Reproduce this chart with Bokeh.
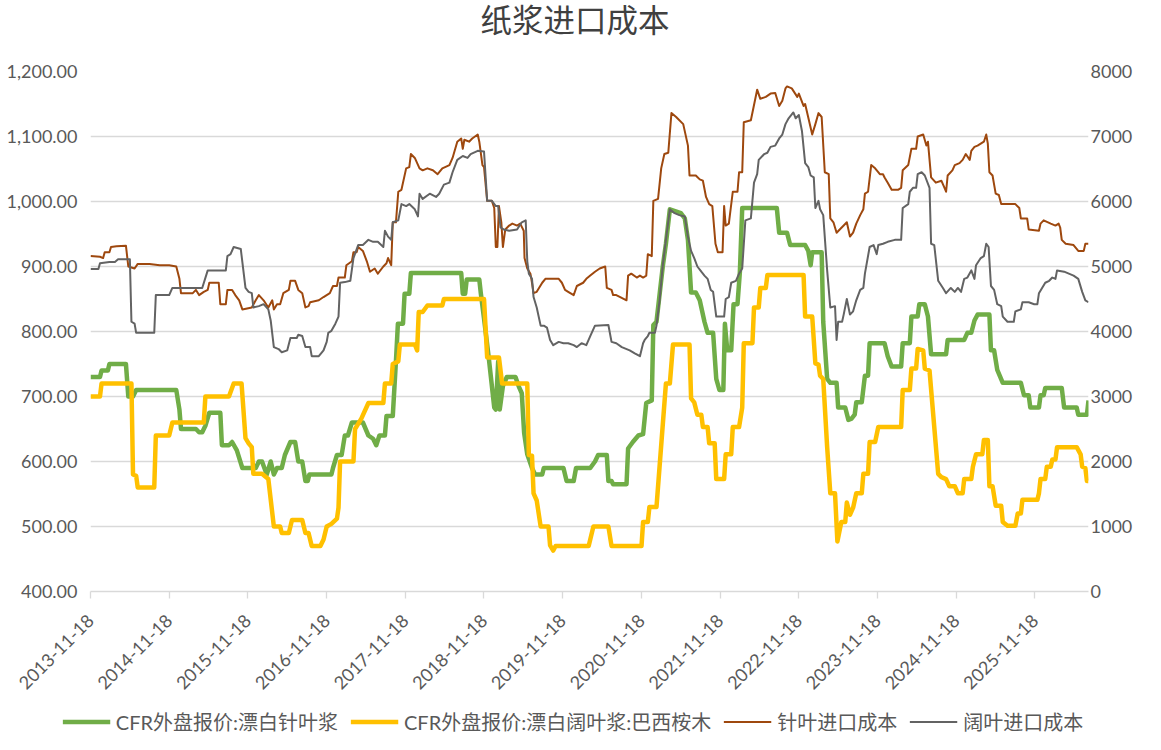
import math
import pandas as pd
from bokeh.plotting import figure
from bokeh.layouts import column
from bokeh.models import (Range1d, LinearAxis, FixedTicker, NumeralTickFormatter,
                          Legend, LegendItem, Title)
from bokeh.embed import file_html
from bokeh.resources import INLINE

# ---------------- data (decimal year, value) ----------------
# CFR外盘报价:漂白针叶浆 (USD/t, left axis)
sw_cfr_pts = [
    (2013.88,730),(2014.00,730),(2014.02,740),(2014.10,740),(2014.12,750),(2014.33,750),(2014.36,700),(2014.42,700),
    (2014.46,710),(2014.97,710),(2015.01,680),(2015.03,650),(2015.22,650),(2015.26,645),(2015.30,645),(2015.34,655),
    (2015.39,675),(2015.53,675),(2015.55,625),(2015.64,625),(2015.68,630),(2015.74,617),(2015.81,590),(2015.98,590),
    (2016.02,600),(2016.06,600),(2016.12,580),(2016.17,600),(2016.21,580),(2016.25,590),(2016.31,590),(2016.35,610),
    (2016.42,630),(2016.48,630),(2016.52,600),(2016.57,600),(2016.61,570),(2016.64,570),(2016.66,580),(2016.94,580),
    (2016.96,590),(2017.01,610),(2017.07,610),(2017.11,640),(2017.15,640),(2017.20,660),(2017.34,660),(2017.41,640),
    (2017.47,635),(2017.51,625),(2017.55,640),(2017.62,640),(2017.64,670),(2017.72,670),(2017.765,765),(2017.785,812),
    (2017.85,812),(2017.87,858),(2017.93,858),(2017.95,890),(2018.59,890),(2018.61,858),(2018.64,858),(2018.66,880),
    (2018.82,880),(2018.84,858),(2018.88,820),(2018.94,760),(2019.01,683),(2019.03,680),(2019.06,754),(2019.08,680),
    (2019.12,716),(2019.17,730),(2019.28,730),(2019.32,716),(2019.36,705),(2019.39,644),(2019.43,611),(2019.49,590),
    (2019.53,580),(2019.62,580),(2019.64,590),(2019.89,590),(2019.93,570),(2020.02,570),(2020.05,590),(2020.23,590),
    (2020.29,600),(2020.33,610),(2020.44,610),(2020.46,570),(2020.50,570),(2020.52,565),(2020.69,565),(2020.71,620),
    (2020.77,630),(2020.84,640),(2020.90,642),(2020.94,690),(2021.01,694),(2021.03,810),(2021.07,815),(2021.15,900),
    (2021.19,935),(2021.24,988),(2021.38,982),(2021.43,974),(2021.47,941),(2021.51,860),(2021.57,860),(2021.62,848),
    (2021.68,815),(2021.72,798),(2021.79,798),(2021.83,727),(2021.87,710),(2021.92,710),(2021.94,812),(2021.97,771),
    (2022.02,771),(2022.05,842),(2022.10,842),(2022.13,891),(2022.16,990),(2022.60,990),(2022.63,952),(2022.73,952),
    (2022.77,933),(2022.96,933),(2023.00,924),(2023.03,902),(2023.05,922),(2023.17,922),(2023.19,815),(2023.24,727),
    (2023.28,721),(2023.36,721),(2023.38,683),(2023.47,683),(2023.51,664),(2023.55,666),(2023.59,672),(2023.61,691),
    (2023.68,691),(2023.72,732),(2023.76,732),(2023.78,782),(2023.97,782),(2024.01,762),(2024.06,746),(2024.18,746),
    (2024.20,782),(2024.29,782),(2024.31,823),(2024.39,823),(2024.41,842),(2024.48,842),(2024.52,823),(2024.56,765),
    (2024.75,765),(2024.77,787),(2024.98,787),(2025.02,798),(2025.07,798),(2025.11,817),(2025.15,826),(2025.30,826),
    (2025.32,771),(2025.36,771),(2025.40,741),(2025.47,721),(2025.70,721),(2025.74,702),(2025.80,702),(2025.82,683),
    (2025.93,683),(2025.95,702),(2025.99,702),(2026.01,713),(2026.22,713),(2026.25,683),(2026.41,683),(2026.43,672),
    (2026.54,672),(2026.56,694),
]

# CFR外盘报价:漂白阔叶浆:巴西桉木 (USD/t, left axis)
hw_cfr_pts = [
    (2013.88,700),(2014.00,700),(2014.02,720),(2014.40,720),(2014.42,580),(2014.46,578),(2014.48,560),(2014.69,560),
    (2014.71,640),(2014.88,640),(2014.92,660),(2015.32,660),(2015.34,700),(2015.64,700),(2015.70,720),(2015.80,720),
    (2015.85,636),(2015.89,628),(2015.93,622),(2015.95,581),(2016.06,581),(2016.14,573),(2016.21,500),(2016.29,500),
    (2016.31,490),(2016.40,490),(2016.44,510),(2016.57,510),(2016.61,490),(2016.65,490),(2016.69,470),(2016.80,470),
    (2016.84,480),(2016.88,500),(2016.94,504),(2017.01,512),(2017.03,529),(2017.05,600),(2017.22,600),(2017.24,650),
    (2017.32,666),(2017.41,690),(2017.60,690),(2017.62,720),(2017.70,720),(2017.72,750),(2017.79,754),(2017.81,780),
    (2018.00,780),(2018.03,771),(2018.05,830),(2018.10,830),(2018.16,840),(2018.35,840),(2018.37,850),(2018.88,850),
    (2018.92,760),(2019.07,760),(2019.11,720),(2019.43,720),(2019.45,610),(2019.49,609),(2019.51,551),(2019.55,540),
    (2019.60,500),(2019.70,500),(2019.72,471),(2019.76,463),(2019.79,470),(2020.21,470),(2020.27,500),(2020.46,500),
    (2020.50,470),(2020.88,470),(2020.90,507),(2020.96,507),(2020.98,530),(2021.07,530),(2021.19,720),(2021.24,720),
    (2021.28,780),(2021.49,780),(2021.51,697),(2021.55,691),(2021.59,672),(2021.64,672),(2021.66,653),(2021.72,653),
    (2021.74,628),(2021.81,628),(2021.83,573),(2021.93,573),(2021.95,611),(2022.02,611),(2022.04,653),(2022.12,653),
    (2022.16,683),(2022.18,782),(2022.29,782),(2022.31,837),(2022.37,837),(2022.39,867),(2022.46,867),(2022.48,887),
    (2022.94,887),(2022.96,823),(2023.05,823),(2023.09,751),(2023.13,749),(2023.15,732),(2023.19,727),(2023.24,622),
    (2023.28,551),(2023.34,551),(2023.37,477),(2023.42,507),(2023.47,507),(2023.49,537),(2023.53,518),(2023.57,529),
    (2023.61,551),(2023.68,551),(2023.70,581),(2023.76,581),(2023.78,630),(2023.85,630),(2023.89,653),(2024.18,653),
    (2024.20,710),(2024.29,710),(2024.31,743),(2024.37,743),(2024.39,773),(2024.46,771),(2024.48,743),(2024.54,740),
    (2024.60,653),(2024.65,581),(2024.69,576),(2024.75,573),(2024.79,562),(2024.86,562),(2024.90,551),(2024.96,551),
    (2024.98,573),(2025.07,573),(2025.09,592),(2025.13,611),(2025.21,611),(2025.23,633),(2025.28,633),(2025.30,562),
    (2025.34,562),(2025.38,532),(2025.45,532),(2025.47,507),(2025.53,501),(2025.63,501),(2025.66,520),(2025.70,520),
    (2025.72,541),(2025.91,541),(2025.93,551),(2025.95,573),(2026.01,573),(2026.03,592),(2026.08,592),(2026.10,603),
    (2026.14,603),(2026.16,622),(2026.41,622),(2026.46,611),(2026.48,592),(2026.52,590),(2026.54,570),(2026.56,570),
]

# 针叶进口成本 (CNY/t, right axis)
sw_cost_pts = [
    (2013.88,5160),(2014.00,5150),(2014.04,5130),(2014.06,5220),(2014.12,5220),(2014.14,5300),(2014.21,5310),(2014.33,5320),
    (2014.36,5000),(2014.44,4970),(2014.48,5040),(2014.63,5040),(2014.76,5020),(2014.88,5020),(2014.97,5000),(2015.01,4810),
    (2015.03,4590),(2015.18,4590),(2015.22,4640),(2015.26,4560),(2015.32,4610),(2015.37,4640),(2015.39,4750),(2015.51,4750),
    (2015.53,4420),(2015.60,4420),(2015.62,4640),(2015.68,4640),(2015.72,4560),(2015.77,4480),(2015.81,4340),(2015.93,4370),
    (2015.98,4480),(2016.02,4560),(2016.08,4480),(2016.14,4370),(2016.19,4480),(2016.21,4340),(2016.25,4420),(2016.29,4420),
    (2016.33,4590),(2016.40,4640),(2016.42,4780),(2016.48,4780),(2016.52,4640),(2016.57,4590),(2016.61,4370),(2016.65,4390),
    (2016.67,4450),(2016.78,4480),(2016.84,4530),(2016.92,4590),(2016.96,4700),(2017.01,4700),(2017.03,4830),(2017.11,4830),
    (2017.13,5020),(2017.20,5080),(2017.22,5220),(2017.26,5220),(2017.28,5300),(2017.34,5240),(2017.39,5080),(2017.43,4920),
    (2017.49,4970),(2017.53,4890),(2017.60,5000),(2017.64,5050),(2017.66,5130),(2017.70,5020),(2017.72,5680),(2017.76,5680),
    (2017.79,6150),(2017.83,6180),(2017.89,6510),(2017.93,6530),(2017.95,6730),(2018.00,6670),(2018.06,6510),(2018.10,6480),
    (2018.16,6510),(2018.23,6480),(2018.29,6420),(2018.35,6510),(2018.44,6560),(2018.48,6670),(2018.54,6920),(2018.59,6970),
    (2018.61,6810),(2018.63,6950),(2018.69,6920),(2018.73,6970),(2018.80,7030),(2018.82,6920),(2018.86,6560),(2018.88,6530),
    (2018.92,6010),(2018.98,6010),(2019.01,5900),(2019.03,5300),(2019.05,5300),(2019.07,5930),(2019.10,5680),(2019.12,5300),
    (2019.15,5570),(2019.20,5630),(2019.24,5660),(2019.30,5630),(2019.34,5660),(2019.385,5550),(2019.395,5130),(2019.43,4970),
    (2019.47,4890),(2019.49,4750),(2019.51,4590),(2019.55,4610),(2019.62,4750),(2019.66,4810),(2019.83,4810),(2019.87,4750),
    (2019.91,4640),(2019.95,4610),(2020.02,4560),(2020.06,4700),(2020.14,4750),(2020.18,4810),(2020.23,4860),(2020.29,4920),
    (2020.35,4970),(2020.42,5000),(2020.44,4670),(2020.50,4640),(2020.52,4560),(2020.56,4560),(2020.61,4530),(2020.69,4480),
    (2020.71,4860),(2020.75,4890),(2020.82,4830),(2020.86,4860),(2020.90,4830),(2020.94,4860),(2020.96,5190),(2021.01,5160),
    (2021.03,6010),(2021.09,6040),(2021.13,6510),(2021.17,6730),(2021.22,6750),(2021.26,7360),(2021.32,7300),(2021.41,7190),
    (2021.47,6860),(2021.49,6400),(2021.57,6400),(2021.62,6340),(2021.66,6320),(2021.70,6070),(2021.74,5960),(2021.78,5930),
    (2021.82,5350),(2021.85,5220),(2021.91,5220),(2021.93,5930),(2021.95,5630),(2021.99,5660),(2022.04,6150),(2022.10,6150),
    (2022.12,6450),(2022.16,6450),(2022.18,7220),(2022.27,7250),(2022.35,7720),(2022.39,7580),(2022.46,7610),(2022.52,7660),
    (2022.58,7670),(2022.63,7470),(2022.67,7550),(2022.71,7740),(2022.73,7770),(2022.79,7740),(2022.86,7610),(2022.88,7660),
    (2022.94,7470),(2022.96,7500),(2023.05,7030),(2023.09,7190),(2023.13,7360),(2023.17,7300),(2023.21,6450),(2023.26,6420),
    (2023.28,5740),(2023.32,5680),(2023.36,5520),(2023.40,5570),(2023.45,5630),(2023.49,5680),(2023.53,5460),(2023.57,5520),
    (2023.61,5660),(2023.66,5790),(2023.70,5880),(2023.72,6120),(2023.76,6150),(2023.80,6560),(2023.85,6510),(2023.91,6420),
    (2023.95,6420),(2023.97,6370),(2024.01,6290),(2024.06,6180),(2024.14,6180),(2024.18,6210),(2024.20,6480),(2024.27,6560),
    (2024.31,6810),(2024.37,6810),(2024.39,7000),(2024.46,7030),(2024.50,6860),(2024.52,6920),(2024.56,6370),(2024.62,6290),
    (2024.69,6320),(2024.73,6210),(2024.75,6150),(2024.77,6400),(2024.83,6480),(2024.86,6560),(2024.92,6590),(2024.96,6640),
    (2025.00,6730),(2025.05,6640),(2025.07,6780),(2025.11,6840),(2025.15,6860),(2025.19,6890),(2025.23,6920),(2025.26,7030),
    (2025.28,6890),(2025.30,6450),(2025.34,6400),(2025.36,6260),(2025.38,6120),(2025.42,6100),(2025.45,5960),(2025.63,5960),
    (2025.68,5900),(2025.70,5740),(2025.78,5740),(2025.80,5570),(2025.93,5550),(2025.95,5660),(2025.99,5710),(2026.08,5660),
    (2026.14,5630),(2026.18,5660),(2026.20,5600),(2026.22,5410),(2026.27,5350),(2026.37,5330),(2026.43,5240),(2026.50,5240),
    (2026.52,5350),(2026.56,5350),
]

# 阔叶进口成本 (CNY/t, right axis)
hw_cost_pts = [
    (2013.88,4960),(2013.98,4960),(2014.00,5050),(2014.12,5070),(2014.19,5070),(2014.23,5110),(2014.38,5110),(2014.40,4150),
    (2014.44,4120),(2014.46,3980),(2014.69,3980),(2014.71,4560),(2014.88,4560),(2014.92,4670),(2015.30,4670),(2015.37,4940),
    (2015.60,4940),(2015.62,5160),(2015.66,5190),(2015.70,5300),(2015.79,5270),(2015.85,4670),(2015.89,4610),(2015.93,4590),
    (2015.95,4370),(2016.02,4390),(2016.08,4420),(2016.14,4340),(2016.17,4170),(2016.21,3760),(2016.27,3730),(2016.31,3680),
    (2016.38,3710),(2016.42,3900),(2016.50,3900),(2016.52,3950),(2016.57,3930),(2016.61,3760),(2016.67,3760),(2016.69,3620),
    (2016.78,3620),(2016.84,3710),(2016.88,3840),(2016.90,3980),(2016.94,4010),(2016.99,4120),(2017.03,4230),(2017.05,4750),
    (2017.11,4760),(2017.18,4780),(2017.22,5130),(2017.28,5330),(2017.34,5330),(2017.41,5410),(2017.47,5380),(2017.53,5380),
    (2017.60,5300),(2017.62,5550),(2017.66,5460),(2017.70,5410),(2017.72,5680),(2017.79,5710),(2017.83,5960),(2017.89,5930),
    (2017.93,5960),(2018.00,5880),(2018.04,5770),(2018.06,6120),(2018.10,6040),(2018.19,6120),(2018.27,6070),(2018.31,6120),
    (2018.37,6260),(2018.44,6290),(2018.48,6450),(2018.54,6640),(2018.61,6700),(2018.67,6670),(2018.71,6730),(2018.80,6780),
    (2018.88,6770),(2018.92,6010),(2018.98,6010),(2019.03,5930),(2019.06,5930),(2019.09,5600),(2019.13,5570),(2019.20,5550),
    (2019.30,5570),(2019.36,5680),(2019.41,5710),(2019.43,5080),(2019.45,4890),(2019.49,4810),(2019.51,4530),(2019.55,4370),
    (2019.60,4090),(2019.64,4090),(2019.68,4060),(2019.72,3870),(2019.76,3790),(2019.83,3840),(2019.89,3820),(2019.95,3820),
    (2020.02,3790),(2020.06,3760),(2020.12,3820),(2020.18,3790),(2020.23,3930),(2020.29,4090),(2020.46,4100),(2020.50,3840),
    (2020.56,3820),(2020.63,3760),(2020.73,3710),(2020.80,3660),(2020.86,3620),(2020.90,3820),(2020.92,3870),(2020.96,3930),
    (2020.98,3980),(2021.05,3980),(2021.07,4090),(2021.11,4480),(2021.15,5020),(2021.19,5410),(2021.24,5880),(2021.30,5820),
    (2021.36,5790),(2021.43,5770),(2021.47,5460),(2021.51,5240),(2021.55,5130),(2021.59,5000),(2021.64,4920),(2021.68,4860),
    (2021.72,4810),(2021.76,4640),(2021.79,4610),(2021.83,4230),(2021.93,4230),(2021.95,4500),(2021.99,4530),(2022.02,4750),
    (2022.08,4780),(2022.12,4890),(2022.16,4970),(2022.20,5710),(2022.27,5740),(2022.31,6290),(2022.35,6420),(2022.37,6640),
    (2022.44,6730),(2022.48,6750),(2022.52,6840),(2022.58,6860),(2022.63,6970),(2022.67,7030),(2022.71,7190),(2022.75,7280),
    (2022.81,7370),(2022.84,7280),(2022.88,7330),(2022.92,7080),(2022.96,6590),(2023.00,6530),(2023.03,6400),(2023.07,6370),
    (2023.09,5900),(2023.13,6010),(2023.15,5880),(2023.19,5790),(2023.24,4940),(2023.28,4370),(2023.34,4390),(2023.36,3870),
    (2023.38,4150),(2023.43,4150),(2023.45,4260),(2023.49,4500),(2023.53,4260),(2023.57,4310),(2023.61,4480),(2023.66,4640),
    (2023.70,4670),(2023.72,4890),(2023.78,5300),(2023.83,5330),(2023.87,5190),(2023.89,5330),(2023.95,5350),(2024.01,5380),
    (2024.10,5410),(2024.18,5410),(2024.20,5900),(2024.27,5960),(2024.29,6150),(2024.33,6210),(2024.37,6210),(2024.39,6420),
    (2024.44,6450),(2024.48,6400),(2024.54,6210),(2024.56,5350),(2024.60,5330),(2024.65,4780),(2024.71,4670),(2024.75,4590),
    (2024.81,4670),(2024.86,4610),(2024.90,4670),(2024.94,4610),(2024.98,4810),(2025.02,4830),(2025.07,4940),(2025.11,4810),
    (2025.13,5020),(2025.19,5130),(2025.23,5160),(2025.26,5350),(2025.29,5300),(2025.32,4700),(2025.36,4640),(2025.40,4420),
    (2025.45,4390),(2025.47,4230),(2025.53,4150),(2025.61,4150),(2025.63,4310),(2025.70,4340),(2025.72,4450),(2025.80,4450),
    (2025.87,4420),(2025.91,4420),(2025.93,4590),(2025.97,4670),(2026.01,4750),(2026.06,4780),(2026.10,4830),(2026.14,4810),
    (2026.16,4940),(2026.25,4920),(2026.31,4890),(2026.37,4860),(2026.43,4810),(2026.48,4610),(2026.52,4480),(2026.56,4450),
]

series_names = ["CFR外盘报价:漂白针叶浆", "CFR外盘报价:漂白阔叶浆:巴西桉木", "针叶进口成本", "阔叶进口成本"]
series_colors = ["#70AD47", "#FFC000", "#9E480E", "#636363"]
series_widths = [4.5, 4.5, 2, 2]
x_tick_labels = ["2013-11-18", "2014-11-18", "2015-11-18", "2016-11-18", "2017-11-18", "2018-11-18", "2019-11-18",
                 "2020-11-18", "2021-11-18", "2022-11-18", "2023-11-18", "2024-11-18", "2025-11-18"]
left_ticks = [400, 500, 600, 700, 800, 900, 1000, 1100, 1200]
right_ticks = [0, 1000, 2000, 3000, 4000, 5000, 6000, 7000, 8000]

# ---------------- helpers ----------------
def ydt(y):
    yr = int(y)
    s = pd.Timestamp(year=yr, month=1, day=1)
    e = pd.Timestamp(year=yr + 1, month=1, day=1)
    return s + (e - s) * (y - yr)

def split(pts):
    return [ydt(t) for t, _ in pts], [v for _, v in pts]

NUM_FONT = "Lato"
LEG_FONT = "Lato, Noto Sans CJK SC"
TXT = "#595959"

x_start = pd.Timestamp(x_tick_labels[0])
x_end = ydt(sw_cfr_pts[-1][0])

W = 1145
MAIN_H = 708
LEG_H = 26

p = figure(width=W, height=MAIN_H, x_axis_type="datetime",
           x_range=Range1d(x_start, x_end), y_range=Range1d(left_ticks[0], left_ticks[-1]),
           output_backend="svg", toolbar_location=None,
           min_border_left=90, min_border_right=57, min_border_top=63, min_border_bottom=MAIN_H - 591)
p.extra_y_ranges = {"right": Range1d(right_ticks[0], right_ticks[-1])}
p.outline_line_color = None
p.background_fill_color = "white"
p.border_fill_color = "white"

# spacer between frame and title (stacked next to the frame)
p.add_layout(Title(text=" ", text_font="DejaVu Sans", text_font_size="10px", standoff=20), "above")

# title (outermost)
p.title.text = "纸浆进口成本"
p.title.align = "left"
p.title.text_font = "DejaVu Sans, Noto Sans CJK SC"
p.title.text_font_size = "31.5px"
p.title.text_font_style = "normal"
p.title.text_color = "#404040"
p.title.offset = 390
p.title.standoff = 0

# grid
p.xgrid.visible = False
p.ygrid.grid_line_color = "#D9D9D9"
p.ygrid.grid_line_width = 1.3
p.ygrid.ticker = FixedTicker(ticks=left_ticks)

# x axis
xa = p.xaxis[0]
tick_ms = [pd.Timestamp(s).value // 10**6 for s in x_tick_labels]
xa.ticker = FixedTicker(ticks=tick_ms)
xa.major_label_overrides = {ms: lab for ms, lab in zip(tick_ms, x_tick_labels)}
xa.major_label_orientation = math.pi / 4
xa.axis_line_color = "#D9D9D9"
xa.axis_line_width = 1.3
xa.major_tick_line_color = "#D9D9D9"
xa.major_tick_line_width = 1.3
xa.major_tick_in = 0
xa.major_tick_out = 7
xa.minor_tick_line_color = None
xa.minor_tick_out = 0
xa.minor_tick_in = 0
xa.major_label_text_font = NUM_FONT
xa.major_label_text_font_size = "18px"
xa.major_label_text_color = TXT
xa.major_label_standoff = 19

# left axis
ya = p.yaxis[0]
ya.ticker = FixedTicker(ticks=left_ticks)
ya.formatter = NumeralTickFormatter(format="0,0.00")
ya.axis_line_color = None
ya.major_tick_line_color = None
ya.minor_tick_line_color = None
ya.major_tick_out = 0
ya.major_tick_in = 0
ya.minor_tick_out = 0
ya.minor_tick_in = 0
ya.major_label_text_font = NUM_FONT
ya.major_label_text_font_size = "18px"
ya.major_label_text_color = TXT
ya.major_label_standoff = 13

# right axis
ra = LinearAxis(y_range_name="right", ticker=FixedTicker(ticks=right_ticks))
ra.axis_line_color = None
ra.major_tick_line_color = None
ra.minor_tick_line_color = None
ra.major_tick_out = 0
ra.major_tick_in = 0
ra.minor_tick_out = 0
ra.minor_tick_in = 0
ra.major_label_text_font = NUM_FONT
ra.major_label_text_font_size = "18px"
ra.major_label_text_color = TXT
ra.major_label_standoff = 2
p.add_layout(ra, "right")

# lines
all_pts = [sw_cfr_pts, hw_cfr_pts, sw_cost_pts, hw_cost_pts]
ranges = ["default", "default", "right", "right"]
for pts, c, w, rn in zip(all_pts, series_colors, series_widths, ranges):
    xs, ys = split(pts)
    p.line(xs, ys, line_color=c, line_width=w, line_join="round", y_range_name=rn)

# legend strip below the chart (its swatches reuse the series styles)
pl = figure(width=W, height=LEG_H, x_range=Range1d(0, 1), y_range=Range1d(0, 1),
            x_axis_location=None, y_axis_location=None, title_location=None,
            output_backend="svg", toolbar_location=None, min_border=0)
pl.grid.visible = False
pl.outline_line_color = None
try:
    pl.frame_align = False
    p.frame_align = False
except Exception:
    pass
nan = float("nan")
leg_renderers = [pl.line([nan], [nan], line_color=c, line_width=w) for c, w in zip(series_colors, series_widths)]
legend = Legend(items=[LegendItem(label=n, renderers=[r]) for n, r in zip(series_names, leg_renderers)],
                orientation="horizontal", location="center",
                glyph_width=48, glyph_height=20, label_standoff=6, spacing=12,
                padding=0, margin=0, border_line_color=None, background_fill_alpha=0,
                label_text_font=LEG_FONT, label_text_font_size="20px", label_text_color=TXT)
pl.add_layout(legend)

open("out.html", "w").write(file_html(column(p, pl), INLINE))
